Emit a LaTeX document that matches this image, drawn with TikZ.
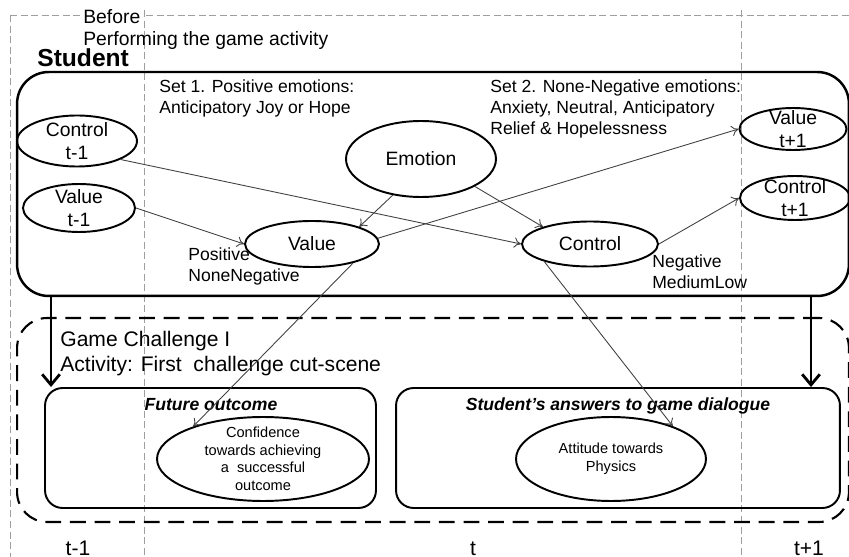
\documentclass[tikz,border=0pt]{standalone}
\usepackage{fontspec}
\setmainfont{Liberation Sans}
\usetikzlibrary{arrows.meta,positioning,shapes.geometric,calc}

\tikzset{
  guide/.style={draw=gray!75, dash pattern=on 4pt off 2pt, line width=0.45pt},
  oval/.style={ellipse, draw, line width=1.1pt, inner sep=0pt},
  inlbl/.style={align=center, inner sep=0pt, font=\fontsize{11}{13}\selectfont},
  smalllbl/.style={align=center, inner sep=0pt, font=\fontsize{8.3}{10}\selectfont},
  panel/.style={draw, line width=1.1pt, rounded corners=10pt},
  link/.style={draw=black!75, line width=0.5pt, -{To[length=4pt,width=6pt]}},
  bigarrow/.style={line width=1.6pt, -{Straight Barb[length=6pt,width=10pt]}},
  note/.style={anchor=north west, inner sep=0pt, align=left, font=\fontsize{10}{12}\selectfont},
  paneltitle/.style={inner sep=0pt, font=\fontsize{10}{12}\bfseries\itshape\selectfont},
  timelbl/.style={anchor=base, inner sep=0pt, font=\fontsize{12}{14}\selectfont},
}

\begin{document}
\begin{tikzpicture}[x=0.02cm, y=-0.02cm]
  \useasboundingbox (0,0) rectangle (849,557);

  % time guides
  \draw[guide] (10,15) -- (10,557);
  \draw[guide] (10,15) -- (80,15);
  \draw[guide] (146,15) -- (849,15);
  \draw[guide] (144,10) -- (144,557);
  \draw[guide] (741,10) -- (741,557);

  \node[note, font=\fontsize{11}{12.6}\selectfont] (before) at (83,9) {Before\\Performing the game activity};

  % student model
  \node[draw, line width=1.4pt, rounded corners=18pt, minimum width=16.64cm, minimum height=4.48cm, inner sep=0pt] (student) at (433,184) {};
  \node[anchor=south west, inner sep=0pt, font=\fontsize{14}{16}\bfseries\selectfont] (studentlbl) at (37,67) {Student};

  \node[note] (set1) at (159,79) {Set 1. Positive emotions:\\ Anticipatory Joy or Hope};
  \node[note] (set2) at (490,79) {Set 2. None-Negative emotions:\\Anxiety, Neutral, Anticipatory\\Relief \& Hopelessness};

  \node[oval, minimum width=2.4cm, minimum height=1.02cm, label={[inlbl]center:Control\\t-1}] (ctrlPrev) at (77,141) {};
  \node[oval, minimum width=2.24cm, minimum height=0.96cm, label={[inlbl]center:Value\\t-1}] (valPrev) at (79,208) {};
  \node[oval, minimum width=3.0cm, minimum height=1.52cm, label={[inlbl]center:Emotion}] (emotion) at (421,159) {};
  \node[oval, minimum width=2.68cm, minimum height=0.92cm, label={[inlbl]center:Value}] (valNow) at (312,244) {};
  \node[oval, minimum width=2.72cm, minimum height=0.9cm, label={[inlbl]center:Control}] (ctrlNow) at (590,244) {};
  \node[oval, minimum width=2.14cm, minimum height=0.84cm, label={[inlbl]center:Value\\t+1}] (valNext) at (793,129) {};
  \node[oval, minimum width=2.2cm, minimum height=0.88cm, label={[inlbl]center:Control\\t+1}] (ctrlNext) at (795,198) {};

  \node[note] (poslbl) at (188,247) {Positive\\NoneNegative};
  \node[note] (neglbl) at (652,254) {Negative\\MediumLow};

  % game challenge
  \node[draw, line width=1.2pt, dash pattern=on 9pt off 5pt, rounded corners=17pt, minimum width=16.64cm, minimum height=4.08cm, inner sep=0pt] (game) at (433,420) {};
  \node[note, font=\fontsize{12}{14}\selectfont] (gamelbl) at (60,331) {Game Challenge I\\Activity: First\ \ challenge cut-scene};

  \node[panel, minimum width=6.62cm, minimum height=2.4cm] (future) at (210.5,448) {};
  \node[paneltitle] (futuretitle) at (211,405) {Future outcome};
  \node[oval, minimum width=4.24cm, minimum height=1.68cm, label={[smalllbl]center:Confidence\\towards achieving\\a\ \ successful\\outcome}] (conf) at (263,459) {};

  \node[panel, minimum width=8.88cm, minimum height=2.4cm] (answers) at (618,448) {};
  \node[paneltitle] (answerstitle) at (618,406) {Student’s answers to game dialogue};
  \node[oval, minimum width=3.8cm, minimum height=1.68cm, label={[smalllbl]center:Attitude towards\\Physics}] (att) at (611,459) {};

  % links
  \draw[link] (ctrlPrev.-23) -- (ctrlNow.west);
  \draw[link] (valPrev.east) -- (valNow.west);
  \draw[link] (emotion.-128) -- (valNow.20);
  \draw[link] (emotion.-27) -- (ctrlNow.160);
  \draw[link] (valNow.5) -- (valNext.west);
  \draw[link] (ctrlNow.east) -- (ctrlNext.west);
  \draw[link] (valNow.-25) -- (conf.155);
  \draw[link] (ctrlNow.201) -- (att.28);

  \draw[bigarrow] (student.south -| 51,0) -- (future.north -| 51,0);
  \draw[bigarrow] (student.south -| 811,0) -- (answers.north -| 811,0);

  % time labels
  \node[timelbl] (tprev) at (78,555) {t-1};
  \node[timelbl] (tnow) at (473,555) {t};
  \node[timelbl] (tnext) at (809,555) {t+1};
\end{tikzpicture}
\end{document}
